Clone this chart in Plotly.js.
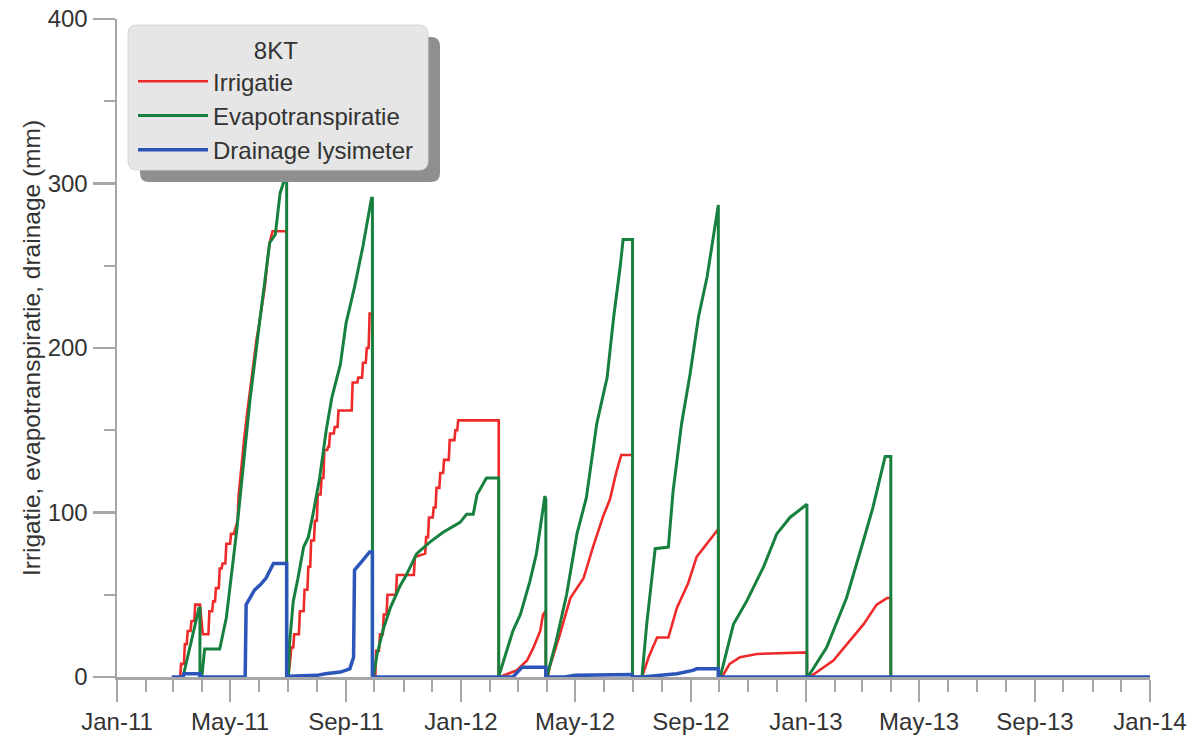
<!DOCTYPE html>
<html><head><meta charset="utf-8">
<script src="https://cdn.plot.ly/plotly-3.0.1.min.js"></script>
<style>html,body{margin:0;padding:0;background:#fff}#chart{width:1199px;height:739px}</style>
</head><body><div id="chart"></div>
<script>
// ---- tick labels ----
const tickDates = ['2011-01-01','2011-05-01','2011-09-01','2012-01-01','2012-05-01','2012-09-01','2013-01-01','2013-05-01','2013-09-01','2014-01-01'];
const tickLabels = ['Jan-11','May-11','Sep-11','Jan-12','May-12','Sep-12','Jan-13','May-13','Sep-13','Jan-14'];
const yTicks = [0,100,200,300,400];

// ---- Irrigatie (red) ----
const irrDates = [
 '2011-03-09','2011-03-10','2011-03-13','2011-03-14','2011-03-16','2011-03-17','2011-03-20','2011-03-21','2011-03-24','2011-03-25','2011-03-30',
 '2011-04-02','2011-04-08','2011-04-09','2011-04-12','2011-04-13','2011-04-15','2011-04-16','2011-04-19','2011-04-20','2011-04-22','2011-04-23','2011-04-26','2011-04-27',
 '2011-05-01','2011-05-02','2011-05-05','2011-05-06','2011-05-09','2011-05-10','2011-05-13','2011-05-16','2011-05-19','2011-05-22','2011-05-26','2011-05-29',
 '2011-06-01','2011-06-03','2011-06-07','2011-06-10','2011-06-12','2011-06-15','2011-06-30','2011-06-30',
 '2011-07-01','2011-07-03','2011-07-05','2011-07-07','2011-07-08','2011-07-13','2011-07-14','2011-07-18','2011-07-19','2011-07-22','2011-07-23','2011-07-25','2011-07-26','2011-07-29','2011-07-30',
 '2011-08-01','2011-08-02','2011-08-05','2011-08-06','2011-08-08','2011-08-09','2011-08-12','2011-08-13','2011-08-14','2011-08-15','2011-08-19','2011-08-20','2011-08-23','2011-08-24',
 '2011-09-07','2011-09-08','2011-09-13','2011-09-14','2011-09-18','2011-09-19','2011-09-22','2011-09-23','2011-09-25','2011-09-26','2011-09-29','2011-09-29',
 '2011-10-02','2011-10-03','2011-10-06','2011-10-07','2011-10-10','2011-10-11','2011-10-14','2011-10-15','2011-10-24','2011-10-25',
 '2011-11-12','2011-11-13','2011-11-24','2011-11-25','2011-11-27','2011-11-28',
 '2011-12-02','2011-12-03','2011-12-05','2011-12-06','2011-12-09','2011-12-10','2011-12-13','2011-12-14','2011-12-19','2011-12-20','2011-12-25','2011-12-26','2011-12-28','2011-12-29',
 '2012-02-10','2012-02-10',
 '2012-02-11','2012-02-29','2012-03-11','2012-03-18','2012-03-25','2012-03-28','2012-03-31','2012-03-31',
 '2012-04-02','2012-04-04','2012-04-15','2012-04-26','2012-05-10','2012-05-20','2012-05-31','2012-06-07','2012-06-14','2012-06-19','2012-07-01','2012-07-01',
 '2012-07-11','2012-07-18','2012-07-27','2012-08-08','2012-08-17','2012-08-29','2012-09-07','2012-09-18','2012-09-28','2012-09-30','2012-09-30',
 '2012-10-04','2012-10-12','2012-10-23','2012-11-10','2012-12-29','2013-01-02','2013-01-02',
 '2013-01-05','2013-01-30','2013-02-17','2013-03-03','2013-03-17','2013-03-28','2013-04-01','2013-04-01'
];
const irrValues = [
 0,8,8,20,20,28,28,34,34,44,44,
 26,26,40,40,46,46,54,54,66,66,69,69,81,
 81,87,87,89,95,110,130,145,160,174,190,205,
 215,222,238,255,264,271,271,0,
 0,6,18,18,26,26,40,40,53,53,67,67,83,83,95,
 95,111,111,121,121,138,138,140,140,148,148,152,152,162,
 162,179,179,182,182,191,191,200,200,221,221,0,
 0,16,16,26,26,38,38,50,50,62,
 62,73,75,85,85,97,
 97,103,103,115,115,124,124,132,132,144,144,150,150,156,
 156,0,
 0,4,10,18,28,38,40,0,
 0,6,26,48,60,79,98,108,125,135,135,0,
 0,12,24,24,42,57,73,81,89,90,0,
 0,8,12,14,15,15,0,
 0,10,22,32,44,48,48,0
];

// ---- Evapotranspiratie (green) ----
const etDates = [
 '2011-03-12','2011-03-29','2011-03-30','2011-03-30','2011-04-01','2011-04-04','2011-04-20','2011-04-27','2011-05-08','2011-05-22',
 '2011-06-02','2011-06-12','2011-06-18','2011-06-23','2011-06-28','2011-06-30','2011-06-30',
 '2011-07-02','2011-07-03','2011-07-07','2011-07-12','2011-07-18','2011-07-23','2011-07-28','2011-08-04','2011-08-11','2011-08-17','2011-08-26',
 '2011-09-01','2011-09-10','2011-09-19','2011-09-28','2011-09-29','2011-09-29',
 '2011-09-30','2011-10-04','2011-10-11','2011-10-18','2011-10-28','2011-11-04','2011-11-15','2011-11-29','2011-12-13','2011-12-31',
 '2012-01-07','2012-01-14','2012-01-18','2012-01-28','2012-02-10','2012-02-10',
 '2012-02-11','2012-02-25','2012-03-04','2012-03-14','2012-03-21','2012-03-27','2012-03-30','2012-03-31','2012-03-31',
 '2012-04-02','2012-04-11','2012-04-22','2012-05-03','2012-05-13','2012-05-24','2012-06-04','2012-06-11','2012-06-18','2012-06-21','2012-07-01','2012-07-01',
 '2012-07-11','2012-07-16','2012-07-25','2012-08-08','2012-08-13','2012-08-22','2012-08-31','2012-09-09','2012-09-18','2012-09-30','2012-09-30',
 '2012-10-02','2012-10-16','2012-10-30','2012-11-17','2012-12-01','2012-12-15','2012-12-31','2013-01-02','2013-01-02',
 '2013-01-03','2013-01-23','2013-02-13','2013-03-03','2013-03-13','2013-03-26','2013-04-01','2013-04-01'
];
const etValues = [
 0,42,42,0,0,17,17,36,89,168,
 219,264,269,294,303,303,0,
 0,20,46,60,79,85,99,121,150,170,190,
 215,237,262,291,291,0,
 0,14,30,42,55,62,75,82,88,94,
 99,99,111,121,121,0,
 2,28,38,58,75,99,110,108,0,
 2,22,50,87,109,154,182,219,250,266,266,0,
 0,32,78,79,113,154,184,219,243,287,0,
 0,32,46,67,87,97,104,105,0,
 0,18,48,83,103,134,134,0
];

// ---- Drainage lysimeter (blue) ----
const drainDates = [
 '2011-02-28','2011-03-12','2011-03-13','2011-03-30','2011-03-30','2011-05-17','2011-05-18','2011-05-22','2011-05-27','2011-06-02','2011-06-08','2011-06-16','2011-06-28','2011-06-30','2011-06-30',
 '2011-07-03','2011-08-01','2011-08-10','2011-08-26','2011-09-05','2011-09-09','2011-09-10','2011-09-16','2011-09-26','2011-09-29','2011-09-29',
 '2012-02-25','2012-03-06','2012-03-31','2012-03-31',
 '2012-04-20','2012-05-01','2012-06-30','2012-07-01',
 '2012-07-11','2012-07-30','2012-08-17','2012-09-03','2012-09-07','2012-09-30','2012-09-30',
 '2014-01-01'
];
const drainValues = [
 0,0,2,2,0,0,44,48,53,56,60,69,69,69,0,
 0.5,1,2,3,5,12,65,69,76,76,0,
 0,6,6,0,
 0,1,1.5,0,
 0,1,2,4,5,5,0,
 0
];

const FONT = 'Liberation Sans, Arial, Helvetica, sans-serif';
const TXT = '#333333';
const AX = '#a6a6a6';
const FS = 24;

const W = 1199, H = 739, M = {l:117, r:49, t:19, b:62};
const pw = W - M.l - M.r, ph = H - M.t - M.b;
const X = p => (p - M.l) / pw;
const Y = p => (H - M.b - p) / ph;
function roundRect(x0, y0, x1, y1, r) {
  return `M${X(x0+r)},${Y(y0)} L${X(x1-r)},${Y(y0)} Q${X(x1)},${Y(y0)} ${X(x1)},${Y(y0+r)} ` +
         `L${X(x1)},${Y(y1-r)} Q${X(x1)},${Y(y1)} ${X(x1-r)},${Y(y1)} L${X(x0+r)},${Y(y1)} ` +
         `Q${X(x0)},${Y(y1)} ${X(x0)},${Y(y1-r)} L${X(x0)},${Y(y0+r)} Q${X(x0)},${Y(y0)} ${X(x0+r)},${Y(y0)} Z`;
}

const traces = [
  {x: irrDates, y: irrValues, type: 'scatter', mode: 'lines', name: 'Irrigatie',
   line: {color: '#ee2a2a', width: 2.6}},
  {x: etDates, y: etValues, type: 'scatter', mode: 'lines', name: 'Evapotranspiratie',
   line: {color: '#17803f', width: 3}},
  {x: drainDates, y: drainValues, type: 'scatter', mode: 'lines', name: 'Drainage lysimeter',
   line: {color: '#2b55b8', width: 3.5}}
];

const layout = {
  width: W, height: H,
  margin: M,
  paper_bgcolor: '#ffffff', plot_bgcolor: '#ffffff',
  font: {family: FONT, size: FS, color: TXT},
  showlegend: true,
  legend: {
    x: X(133), y: Y(28), xanchor: 'left', yanchor: 'top',
    bgcolor: 'rgba(0,0,0,0)', borderwidth: 0,
    font: {family: FONT, size: FS, color: TXT},
    title: {text: '8KT', side: 'top center', font: {family: FONT, size: FS, color: TXT}},
    itemwidth: 70, traceorder: 'normal'
  },
  xaxis: {
    type: 'date', range: ['2011-01-01', '2014-01-01'],
    tickmode: 'array', tickvals: tickDates, ticktext: tickLabels,
    ticks: 'outside', ticklen: 22, tickwidth: 2.5, tickcolor: AX,
    showline: true, linecolor: AX, linewidth: 2.5,
    showgrid: false, zeroline: false,
    tickfont: {family: FONT, size: FS, color: TXT},
    minor: {dtick: 'M1', tick0: '2011-01-01', ticks: 'outside', ticklen: 12, tickwidth: 2, tickcolor: AX, showgrid: false}
  },
  yaxis: {
    range: [0, 400], tickmode: 'array', tickvals: yTicks,
    ticks: 'outside', ticklen: 22, tickwidth: 2.5, tickcolor: AX,
    showline: true, linecolor: AX, linewidth: 2.5,
    showgrid: false, zeroline: false,
    tickfont: {family: FONT, size: FS, color: TXT},
    minor: {dtick: 50, tick0: 0, ticks: 'outside', ticklen: 11, tickwidth: 2, tickcolor: AX, showgrid: false},
    title: {text: 'Irrigatie, evapotranspiratie, drainage (mm)', standoff: 0, font: {family: FONT, size: 24.5, color: TXT}}
  },
  shapes: [
    {type: 'path', xref: 'paper', yref: 'paper', layer: 'above', path: roundRect(140, 37, 440, 182, 9),
     fillcolor: '#8f8f8f', line: {width: 0}},
    {type: 'path', xref: 'paper', yref: 'paper', layer: 'above', path: roundRect(128, 25, 428, 170, 9),
     fillcolor: '#e6e6e6', line: {color: '#d6d6d6', width: 1}}
  ]
};

Plotly.newPlot('chart', traces, layout, {staticPlot: true, displayModeBar: false});
</script>
</body></html>
